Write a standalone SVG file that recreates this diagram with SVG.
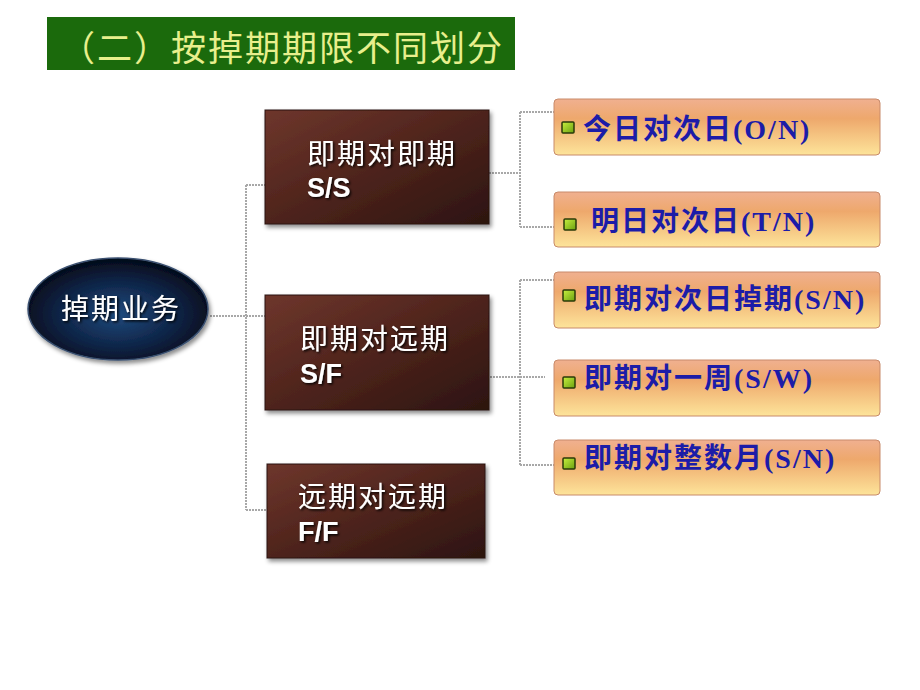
<svg xmlns="http://www.w3.org/2000/svg" width="920" height="690" viewBox="0 0 920 690">
<defs>
<radialGradient id="ell" cx="0.5" cy="0.55" r="0.55">
<stop offset="0" stop-color="#1f4a7e"/>
<stop offset="0.6" stop-color="#0e2446"/>
<stop offset="1" stop-color="#040a18"/>
</radialGradient>
<linearGradient id="brown" x1="0" y1="0" x2="1" y2="1">
<stop offset="0" stop-color="#6e362c"/>
<stop offset="0.5" stop-color="#4e241c"/>
<stop offset="1" stop-color="#2c1410"/>
</linearGradient>
<linearGradient id="orange" x1="0" y1="0" x2="0" y2="1">
<stop offset="0" stop-color="#f0b090"/>
<stop offset="0.35" stop-color="#eea86c"/>
<stop offset="1" stop-color="#fde49a"/>
</linearGradient>
<linearGradient id="sq" x1="0" y1="0" x2="1" y2="1">
<stop offset="0" stop-color="#c8f040"/>
<stop offset="1" stop-color="#6aa010"/>
</linearGradient>
<filter id="sh" x="-10%" y="-10%" width="130%" height="130%">
<feDropShadow dx="2" dy="3" stdDeviation="2" flood-color="#000" flood-opacity="0.45"/>
</filter>
<filter id="tsh" x="-10%" y="-20%" width="130%" height="150%">
<feDropShadow dx="1.5" dy="1.5" stdDeviation="0.8" flood-color="#000" flood-opacity="0.9"/>
</filter>
</defs>
<style>
.conn{fill:none;stroke:#a8a8a8;stroke-width:2;stroke-dasharray:2 1}
.wt{font-family:"Liberation Sans","Noto Sans CJK SC",sans-serif;fill:#fff;font-size:28px;letter-spacing:2px}
.wb{font-family:"Liberation Sans",Arial,sans-serif;fill:#fff;font-size:27px;font-weight:bold}
.bt{font-family:"Liberation Serif","Noto Sans CJK SC",serif;fill:#1c1ca8;font-size:28px;font-weight:bold;letter-spacing:2px}
.brown{fill:url(#brown);stroke:#2a120e;stroke-width:1}
.ob{fill:url(#orange);stroke:#c88a6a;stroke-width:1}
.sq{fill:url(#sq);stroke:#2a3a08;stroke-width:1.5}
</style>
<rect width="920" height="690" fill="#fff"/>
<g id="title">
<rect x="47" y="17" width="468" height="53" fill="#1b6a0c"/>
<text x="60" y="61" font-family="'Noto Sans CJK SC',sans-serif" font-size="35" letter-spacing="2" fill="#e8ef8c">（二）按掉期期限不同划分</text>
</g>
<g id="connectors">
<path class="conn" d="M210 316 H246 M246 185 V510 M246 185 H265 M246 316 H265 M246 510 H268"/>
<path class="conn" d="M489 173 H520 M520 112 V227 M520 112 H554 M520 227 H554"/>
<path class="conn" d="M487 377 H545 M520 280 V465 M520 280 H554 M520 465 H554"/>
</g>
<g id="root">
<ellipse cx="118" cy="309" rx="90" ry="51" fill="url(#ell)" stroke="#3a5070" stroke-width="1.5" filter="url(#sh)"/>
<text class="wt" x="121" y="319" text-anchor="middle" font-size="28" letter-spacing="1" filter="url(#tsh)">掉期业务</text>
</g>
<g id="ss">
<rect class="brown" x="265" y="110" width="224" height="114" filter="url(#sh)"/>
<text class="wt" x="307" y="164" filter="url(#tsh)">即期对即期</text>
<text class="wb" x="307" y="197" filter="url(#tsh)">S/S</text>
</g>
<g id="sf">
<rect class="brown" x="265" y="295" width="224" height="115" filter="url(#sh)"/>
<text class="wt" x="300" y="349" filter="url(#tsh)">即期对远期</text>
<text class="wb" x="300" y="383" filter="url(#tsh)">S/F</text>
</g>
<g id="ff">
<rect class="brown" x="267" y="464" width="218" height="94" filter="url(#sh)"/>
<text class="wt" x="298" y="507" filter="url(#tsh)">远期对远期</text>
<text class="wb" x="298" y="541" filter="url(#tsh)">F/F</text>
</g>
<g id="on">
<rect class="ob" x="554" y="99" width="326" height="56" rx="4"/>
<rect class="sq" x="562" y="122" width="12" height="11" rx="1"/>
<text class="bt" x="583" y="139">今日对次日(O/N)</text>
</g>
<g id="tn">
<rect class="ob" x="554" y="192" width="326" height="55" rx="4"/>
<rect class="sq" x="564" y="219" width="12" height="11" rx="1"/>
<text class="bt" x="591" y="231">明日对次日(T/N)</text>
</g>
<g id="sn">
<rect class="ob" x="554" y="272" width="326" height="56" rx="4"/>
<rect class="sq" x="563" y="290" width="12" height="11" rx="1"/>
<text class="bt" x="584" y="309">即期对次日掉期(S/N)</text>
</g>
<g id="sw">
<rect class="ob" x="554" y="360" width="326" height="56" rx="4"/>
<rect class="sq" x="563" y="377" width="12" height="11" rx="1"/>
<text class="bt" x="584" y="388">即期对一周(S/W)</text>
</g>
<g id="sm">
<rect class="ob" x="554" y="440" width="326" height="55" rx="4"/>
<rect class="sq" x="563" y="458" width="12" height="11" rx="1"/>
<text class="bt" x="584" y="468">即期对整数月(S/N)</text>
</g>
</svg>
